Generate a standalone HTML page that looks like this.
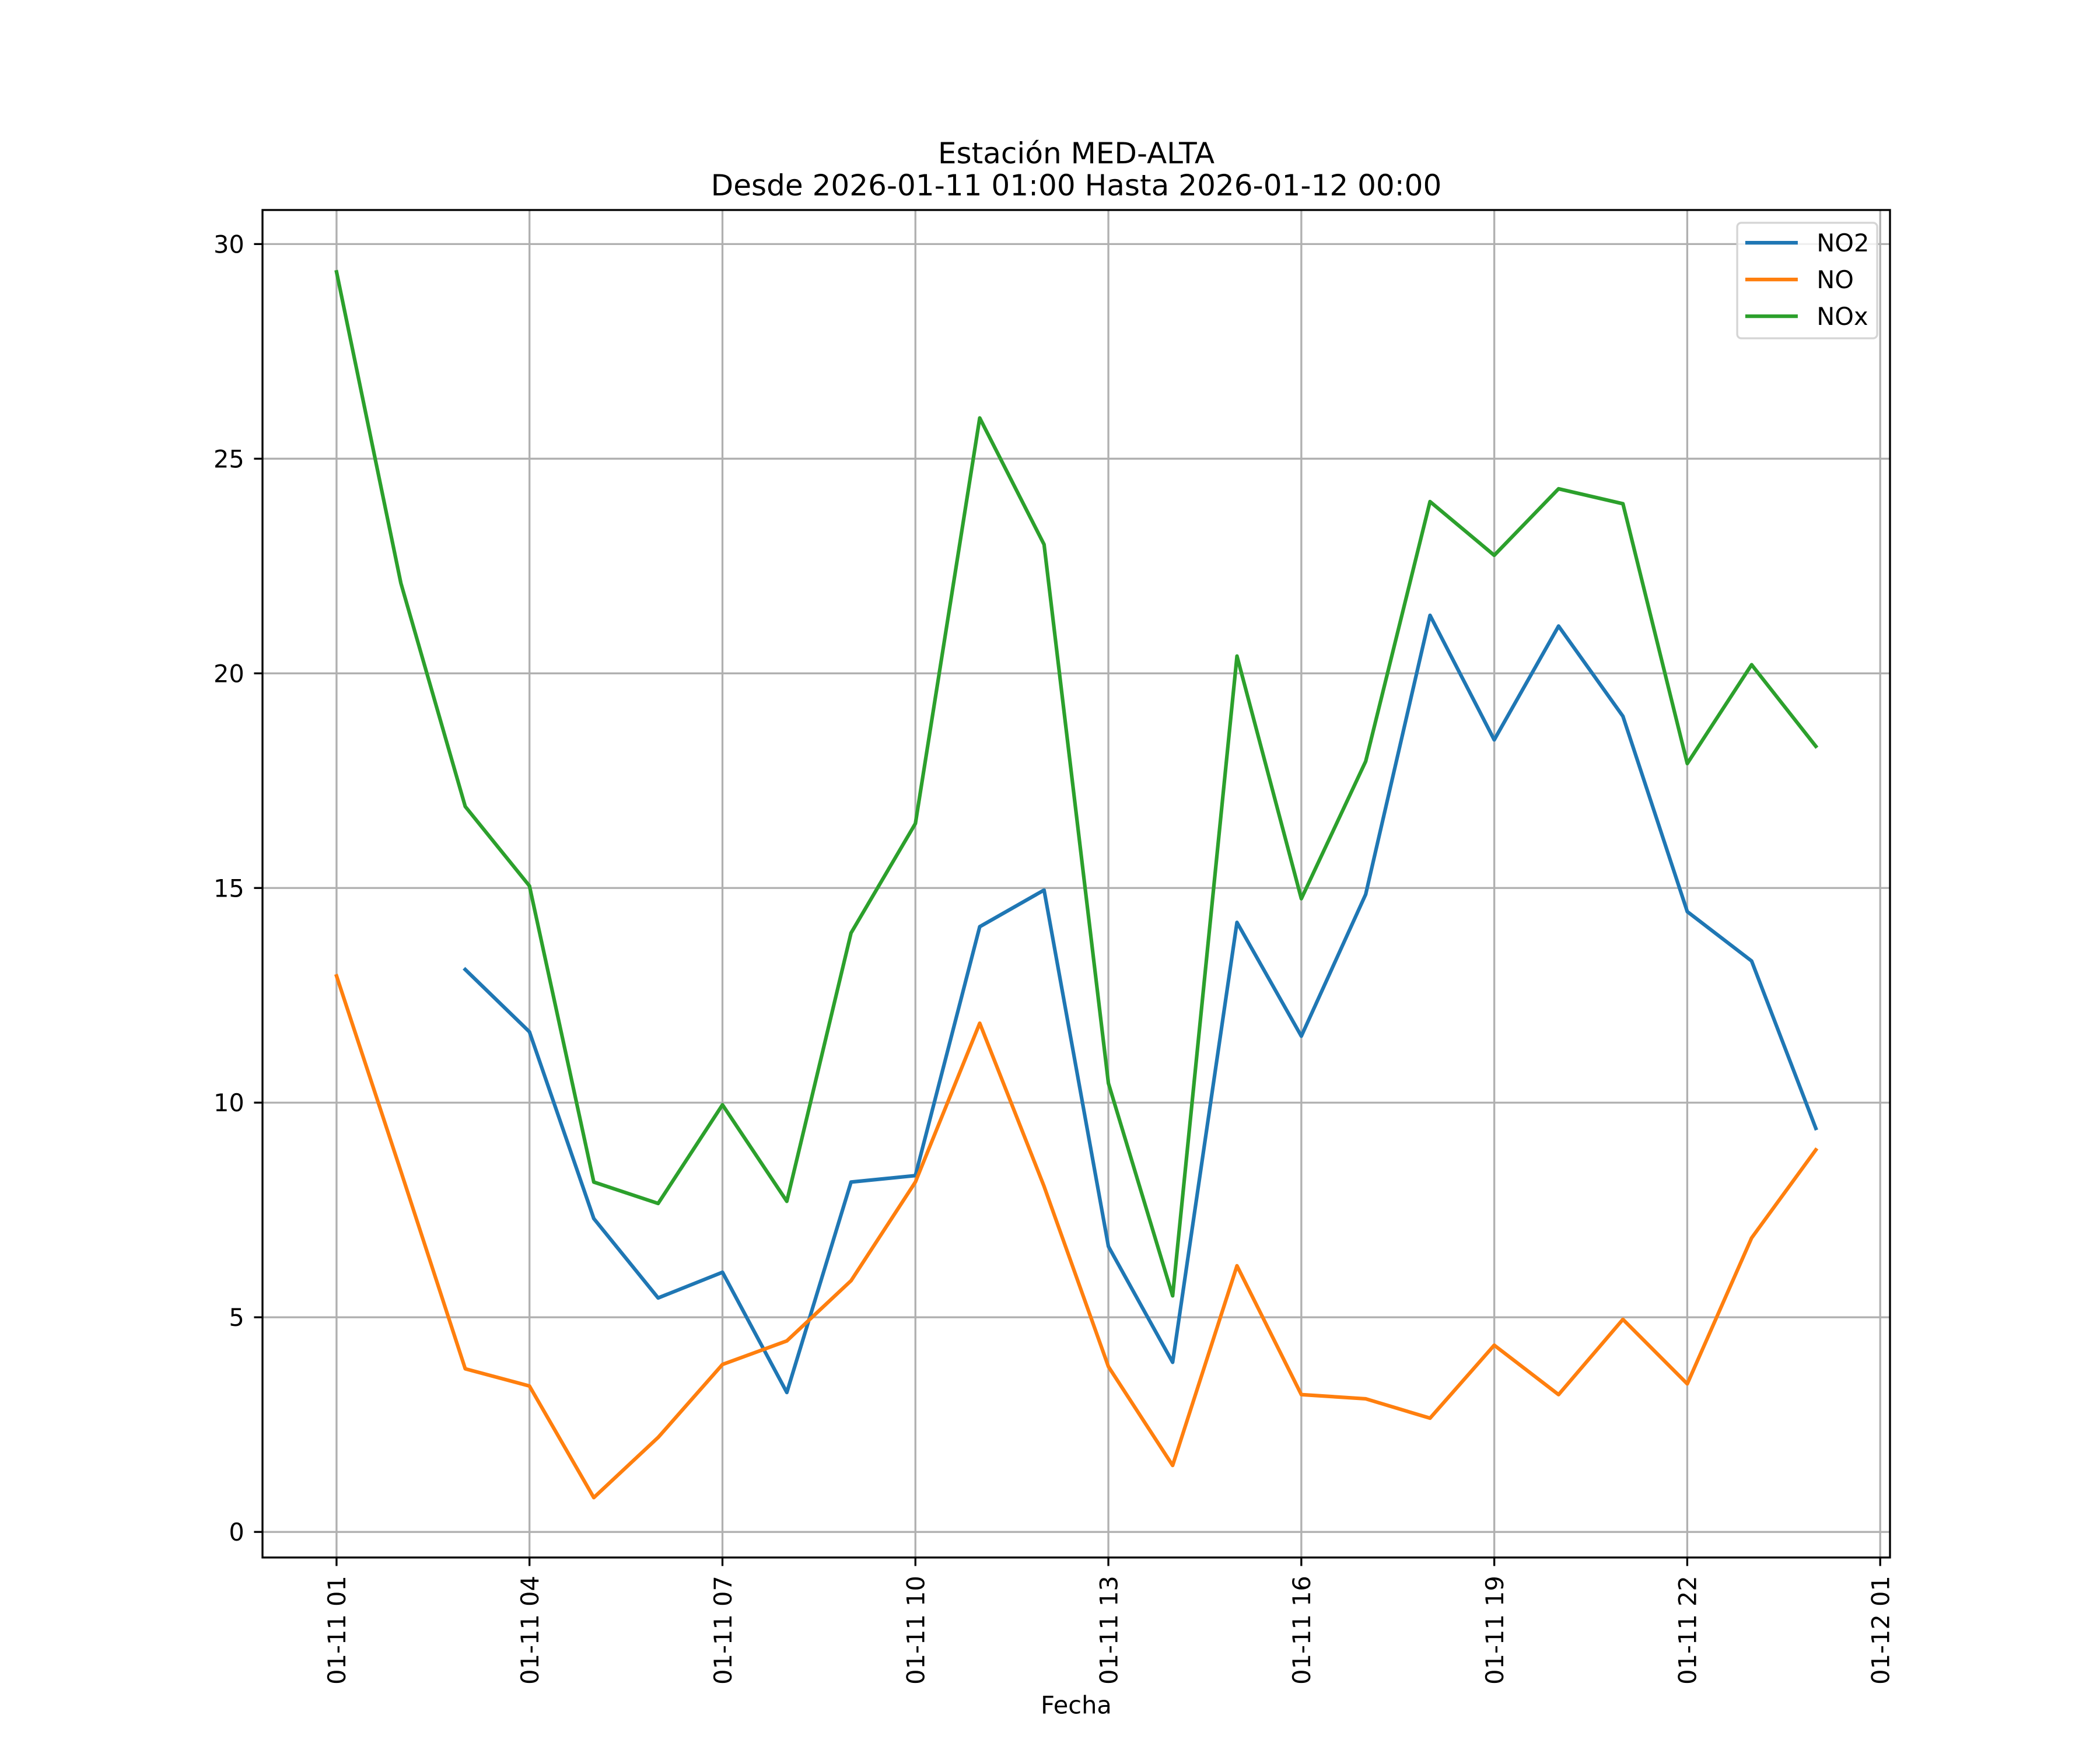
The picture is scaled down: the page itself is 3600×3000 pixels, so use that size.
<!DOCTYPE html>
<html><head><meta charset="utf-8"><style>
html,body{margin:0;padding:0;background:#fff;}
svg{display:block;font-family:"DejaVu Sans","Liberation Sans",sans-serif;}
</style></head><body>
<svg id="chart" width="3600" height="3000" viewBox="0 0 1560 1300" xmlns="http://www.w3.org/2000/svg">
<rect width="1560" height="1300" fill="#fff"/>
<text x="799.5" y="121.3" font-size="21.7" text-anchor="middle">Estación MED-ALTA</text>
<text x="799.5" y="145.2" font-size="21.7" text-anchor="middle">Desde 2026-01-11 01:00 Hasta 2026-01-12 00:00</text>
<g id="grid"></g>
<g id="series"></g>
<rect x="195" y="156" width="1209" height="1001" fill="none" stroke="#000" stroke-width="1.44"/>
<g id="axes"></g>
<text x="799.5" y="1273" font-size="18" text-anchor="middle">Fecha</text>
<g>
<rect x="1290.5" y="165.5" width="104" height="85.8" rx="3" fill="#fff" fill-opacity="0.8" stroke="#d5d5d5" stroke-width="1.44"/>
<g id="legend"></g>
</g>
</svg>
<script>
const hours=[1,2,3,4,5,6,7,8,9,10,11,12,13,14,15,16,17,18,19,20,21,22,23,24];
const no2=[null,null,13.1,11.65,7.3,5.45,6.05,3.25,8.15,8.3,14.1,14.95,6.65,3.95,14.2,11.55,14.85,21.35,18.45,21.1,19.0,14.45,13.3,9.4];
const no=[12.95,8.4,3.8,3.4,0.8,2.2,3.9,4.45,5.85,8.15,11.85,8.05,3.85,1.55,6.2,3.2,3.1,2.65,4.35,3.2,4.95,3.45,6.85,8.9];
const nox=[29.35,22.1,16.9,15.05,8.15,7.65,9.95,7.7,13.95,16.5,25.95,23.0,10.45,5.5,20.4,14.75,17.95,24.0,22.75,24.3,23.95,17.9,20.2,18.3];
const yTicks=[0,5,10,15,20,25,30];
const xTickHours=[1,4,7,10,13,16,19,22,25];
const xTickLabels=["01-11 01","01-11 04","01-11 07","01-11 10","01-11 13","01-11 16","01-11 19","01-11 22","01-12 01"];
const seriesNames=["NO2","NO","NOx"];
const seriesColors=["#1f77b4","#ff7f0e","#2ca02c"];

const NS="http://www.w3.org/2000/svg";
const X=h=>250+(h-1)*47.78;
const Y=v=>1138-v*31.89;
function mk(tag,attrs,parent){const e=document.createElementNS(NS,tag);for(const k in attrs)e.setAttribute(k,attrs[k]);parent.appendChild(e);return e;}
const grid=document.getElementById('grid'),axes=document.getElementById('axes'),ser=document.getElementById('series'),leg=document.getElementById('legend');
yTicks.forEach(t=>{
  const g=mk('line',{x1:195,x2:1404,y1:Y(t),y2:Y(t),stroke:'#b0b0b0','stroke-width':1.44},grid);
  
  
  const tk=mk('line',{x1:188.7,x2:195,y1:Y(t),y2:Y(t),stroke:'#000','stroke-width':1.44},axes);
  
  
  const tx=mk('text',{x:181.5,y:Y(t)+6.5,'font-size':18,'text-anchor':'end'},axes);
  tx.textContent=t;
  
  
});
xTickHours.forEach((h,i)=>{
  const x=X(h);
  const g=mk('line',{x1:x,x2:x,y1:156,y2:1157,stroke:'#b0b0b0','stroke-width':1.44},grid);
  
  
  const tk=mk('line',{x1:x,x2:x,y1:1157,y2:1163.3,stroke:'#000','stroke-width':1.44},axes);
  
  
  const tx=mk('text',{x:0,y:0,'font-size':18,'text-anchor':'end',transform:`translate(${(x+6.6).toFixed(1)},1170.5) rotate(-90)`},axes);
  tx.textContent=xTickLabels[i];
  
  
});
[no2,no,nox].forEach((arr,si)=>{
  let d='',pen=false;
  arr.forEach((v,i)=>{if(v==null){pen=false;return;}d+=(pen?'L':'M')+X(hours[i]).toFixed(1)+' '+Y(v).toFixed(1)+' ';pen=true;});
  const p=mk('path',{d:d,fill:'none',stroke:seriesColors[si],'stroke-width':2.7,'stroke-linejoin':'round','stroke-linecap':'square'},ser);
  
  
  const ly=180.3+si*27.3;
  const ll=mk('line',{x1:1296.5,x2:1335.5,y1:ly,y2:ly,stroke:seriesColors[si],'stroke-width':2.7},leg);
  
  
  const lt=mk('text',{x:1349.5,y:ly+6.5,'font-size':18},leg);
  lt.textContent=seriesNames[si];
  
  
});
</script>
</body></html>
